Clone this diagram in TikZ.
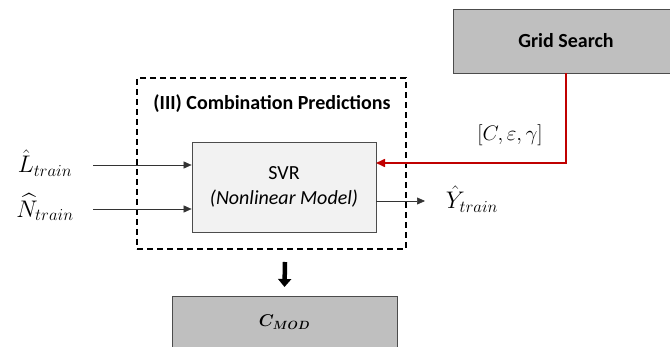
\documentclass[tikz,border=0pt]{standalone}
\usepackage{fix-cm}
\usepackage{amsmath}
\usepackage{bm}
\usepackage{fontspec}
\setmainfont{Carlito}
\usetikzlibrary{arrows.meta,calc}
\definecolor{boxgray}{RGB}{191,191,191}
\definecolor{svrgray}{RGB}{242,242,242}
\definecolor{gsred}{RGB}{192,0,0}
\tikzset{
  block/.style={draw=black!70,line width=0.8pt,inner sep=0pt},
  flow/.style={draw=black!80,line width=0.6pt,-{Triangle[length=8pt,width=7pt]}},
  lbl/.style={font=\fontsize{24}{26}\selectfont,inner sep=0pt}
}
\begin{document}
\begin{tikzpicture}[x=1pt,y=-1pt,line cap=butt,line join=miter]
  \useasboundingbox (0,0) rectangle (670,347);
  % combination frame
  \node[draw,line width=1.4pt,dash pattern=on 6pt off 4pt,minimum width=269pt,
        minimum height=171pt,inner sep=0pt] (comb) at (271.5,163.5) {};
  \node[font=\fontsize{20}{22}\selectfont\bfseries] (combtitle) at (272,104)
    {(III) Combination Predictions};
  % svr block
  \node[block,fill=svrgray,minimum width=184pt,minimum height=90pt,align=center,
        font=\fontsize{20}{25}\selectfont] (svr) at (284,187)
    {SVR\\\textit{(Nonlinear Model)}};
  % grid search and output blocks
  \node[block,fill=boxgray,minimum width=226pt,minimum height=64pt,
        font=\fontsize{20}{22}\selectfont\bfseries] (grid) at (566,41) {Grid Search};
  \node[block,fill=boxgray,minimum width=225pt,minimum height=52pt,
        font=\fontsize{17}{19}\selectfont] (cmod) at (284.5,322)
    {$\bm{C_{MOD}}$};
  % inputs
  \node[lbl] (ltrain) at (45,163) {$\hat{L}_{train}$};
  \node[lbl] (ntrain) at (45,207) {$\widehat{N}_{train}$};
  \coordinate (lstart) at (93,165);
  \coordinate (nstart) at (93,209);
  \draw[flow] (lstart) -- (svr.west |- lstart);
  \draw[flow] (nstart) -- (svr.west |- nstart);
  % output
  \coordinate (yout) at (376,201);
  \coordinate (yend) at (425,201);
  \node[lbl] (ytrain) at (472,199) {$\hat{Y}_{train}$};
  \draw[flow] (yout) -- (yend);
  % hyper-parameters
  \coordinate (redin) at (376,163);
  \draw[gsred,line width=1.6pt,-{Triangle[length=9pt,width=8pt]}]
    (grid.south) |- (redin);
  \node[lbl,font=\fontsize{21}{23}\selectfont] (params) at (510,135)
    {$[C,\varepsilon,\gamma]$};
  % down arrow
  \coordinate (dtop) at (285,262);
  \draw[line width=4.5pt,-{Triangle[length=8pt,width=13pt]}] (dtop) -- (cmod.north |- 0,287);
\end{tikzpicture}
\end{document}
